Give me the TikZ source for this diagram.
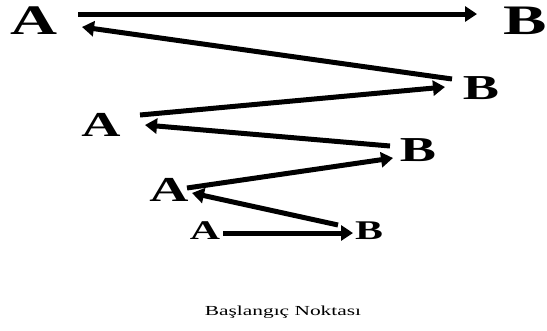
\documentclass[tikz,border=0pt]{standalone}
\usepackage{fontspec}
\setmainfont{Liberation Serif}
\usetikzlibrary{arrows.meta,calc}
\tikzset{
  lbl/.style={inner sep=0pt, font=\bfseries},
  big/.style={lbl, font=\bfseries\fontsize{42}{42}\selectfont},
  mid/.style={lbl, font=\bfseries\fontsize{35}{35}\selectfont},
  small/.style={lbl, font=\bfseries\fontsize{27}{27}\selectfont},
  arr/.style={line width=5pt, -{Triangle[length=12pt,width=15pt]}},
}
\newcommand{\wide}[1]{\scalebox{1.55}[1]{#1}}
\begin{document}
\begin{tikzpicture}[x=1pt,y=-1pt]
\useasboundingbox (0,0) rectangle (547,330);
\node[big] (A1) at (34,21) {\wide{A}};
\node[big] (B1) at (525,21) {\wide{B}};
\node[mid] (B2) at (481,88) {\wide{B}};
\node[mid] (A2) at (101,125) {\wide{A}};
\node[mid] (B3) at (418,150) {\wide{B}};
\node[mid] (A3) at (169,190) {\wide{A}};
\node[small] (A4) at (205,231) {\wide{A}};
\node[small] (B4) at (369,231) {\wide{B}};
\node[inner sep=0pt, font=\fontsize{13.8}{13.8}\selectfont] (cap) at (283,312) {\wide{Başlangıç Noktası}};
\draw[arr] ($(A1)+(44,-7)$) -- ($(B1)+(-48,-7)$);
\draw[arr] ($(B2)+(-29,-9)$) -- ($(A1)+(48,6)$);
\draw[arr] ($(A2)+(39,-10)$) -- ($(B2)+(-36,-1)$);
\draw[arr] ($(B3)+(-28,-4)$) -- ($(A2)+(44,0)$);
\draw[arr] ($(A3)+(18,-2)$) -- ($(B3)+(-25,8)$);
\draw[arr] ($(B4)+(-31,-6)$) -- ($(A3)+(23,3)$);
\draw[arr] ($(A4)+(18,2)$) -- ($(B4)+(-16,2)$);
\end{tikzpicture}
\end{document}
